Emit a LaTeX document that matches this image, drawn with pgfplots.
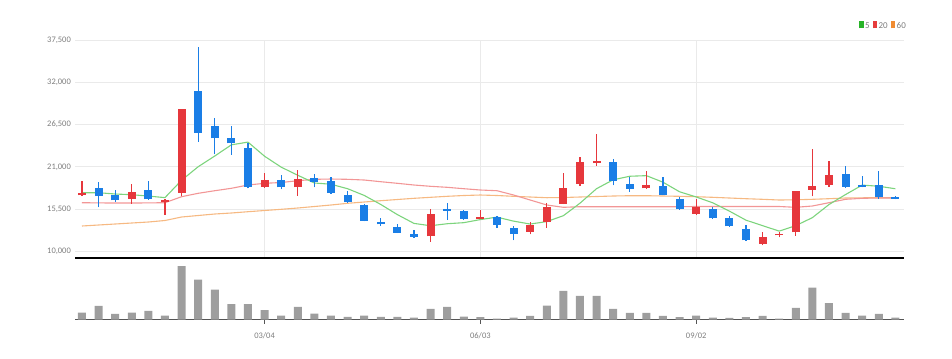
\documentclass[border=0pt]{standalone}
\usepackage{pgfplots}
\pgfplotsset{compat=1.18}
\usepackage{pgfplotstable}
\usepackage{fontspec}
\setmainfont{Carlito}
\definecolor{cred}{RGB}{230,55,60}
\definecolor{cblue}{RGB}{26,126,230}
\definecolor{ma5}{RGB}{125,212,125}
\definecolor{ma20}{RGB}{242,150,150}
\definecolor{ma60}{RGB}{246,185,130}
\definecolor{lg5}{RGB}{40,180,40}
\definecolor{lg20}{RGB}{230,60,60}
\definecolor{lg60}{RGB}{240,140,50}
\definecolor{lab}{RGB}{125,125,125}
\definecolor{grd}{RGB}{234,234,234}
\definecolor{vol}{RGB}{158,158,158}
\definecolor{base}{RGB}{85,85,85}

\pgfplotstableread{
i O H L C
0 17300 19130 17200 17650
3 16860 18740 16180 17740
5 16400 16790 14750 16650
6 17640 28490 17215 28490
11 18420 20170 18290 19300
13 18350 20600 17220 19430
21 11980 15490 11240 14880
24 14270 15400 14190 14450
27 12540 13800 12240 13410
28 13870 16300 13090 15820
29 16210 20170 16170 18290
30 18780 22250 18550 21600
31 21500 25310 21120 21730
34 18220 20470 18160 18680
37 14910 16860 14780 15820
41 10980 12500 10810 11920
42 12110 12540 11850 12280
43 12500 17900 12020 17870
44 18000 23330 17180 18480
45 18650 21730 18420 19980
}\redc

\pgfplotstableread{
i O H L C
1 18200 19100 15750 17200
2 17350 18030 16470 16650
4 18030 19200 16700 16790
7 30900 36550 24270 25440
8 26300 27300 22640 24700
9 24800 26280 22550 24070
10 23420 24140 18220 18420
12 19300 19950 18090 18350
14 19520 20080 18350 19040
15 19130 19650 17510 17600
16 17300 17900 16340 16400
17 16000 16180 13930 14000
18 13870 14320 13350 13540
19 13150 13610 12400 12440
20 12280 12800 11790 11890
22 15520 16340 14100 15300
23 15230 15360 14130 14230
25 14450 14620 13090 13480
26 13090 13320 11460 12280
32 21640 22060 18610 19170
33 18810 19720 17770 18130
35 18520 19720 17300 17350
36 16790 17050 15400 15490
38 15560 15750 14220 14320
39 14390 14650 13190 13280
40 12960 13480 11370 11460
46 20080 21080 18290 18420
47 18650 19780 18350 18420
48 18680 20430 16860 17120
49 17120 17250 16790 16860
}\bluec

\pgfplotstableread{
i m5 m20 m60
0 17644 16344 13315
1 17644 16320 13445
2 17475 16300 13575
3 17384 16300 13705
4 17206 16320 13835
5 17006 16344 14030
6 19264 17124 14485
7 21022 17566 14680
8 22414 17904 14875
9 23870 18216 15005
10 24224 18645 15174
11 22386 18866 15330
12 20968 18970 15486
13 19914 19204 15655
14 18908 19386 15850
15 18744 19425 16045
16 18164 19386 16266
17 17294 19295 16435
18 16116 19074 16604
19 14796 18866 16760
20 13654 18645 16916
21 13350 18476 17046
22 13610 18346 17176
23 13748 18164 17280
24 14150 17995 17345
25 14468 17904 17280
26 13948 17345 17176
27 13570 16695 17085
28 13888 16045 16994
29 14656 15746 17020
30 16280 15824 17085
31 18170 15824 17150
32 19322 15824 17215
33 19784 15824 17254
34 19862 15824 17254
35 19012 15824 17215
36 17764 15824 17176
37 17094 15850 17124
38 16332 15850 17046
39 15252 15850 16955
40 14074 15850 16864
41 13360 15850 16786
42 12652 15850 16695
43 13362 15746 16721
44 14402 15915 16786
45 16106 16344 16864
46 17406 16786 16955
47 18634 16916 16981
48 18484 16955 16994
49 18160 16955 16994
}\mat

\pgfplotstableread{
i v
0 7
1 13.7
2 5.7
3 7
4 8.7
5 4
6 53.3
7 40
8 30
9 15.3
10 15.3
11 9.3
12 4
13 12.7
14 6
15 4
16 2.7
17 4
18 2.7
19 2.7
20 2
21 10.7
22 12.7
23 3
24 2.3
25 1
26 2
27 3.7
28 14
29 28.7
30 23.7
31 23.7
32 10.7
33 6.7
34 6.7
35 3.7
36 2.3
37 4
38 2
39 1.7
40 2.3
41 3.7
42 1
43 11.7
44 32
45 16.3
46 6.7
47 4
48 5.7
49 2
}\volt

\begin{document}
\begin{tikzpicture}
\path[use as bounding box] (0bp,0bp) rectangle (952bp,359bp);

% volume panel
\begin{axis}[
  at={(75bp,39.5bp)}, anchor=south west,
  width=829bp, height=61.5bp, scale only axis,
  xmin=-0.42, xmax=49.52, ymin=0, ymax=61.5,
  axis y line=none, axis x line*=bottom,
  x axis line style={draw=base, line width=1.6bp},
  xtick={11,24,37}, xticklabels={03/04,06/03,09/02},
  tick align=outside, major tick length=4bp,
  xtick style={draw=base, line width=1bp},
  x tick label style={font=\fontsize{8.5}{9}\selectfont, text=lab, inner sep=0pt, yshift=-9bp},
  ytick=\empty,
]
\addplot[ybar, bar width=8bp, fill=vol, draw=none] table[x=i, y=v]{\volt};
\end{axis}

% price panel
\begin{axis}[
  at={(75bp,101bp)}, anchor=south west,
  width=829bp, height=218bp, scale only axis,
  xmin=-0.42, xmax=49.52, ymin=9155, ymax=37500,
  scaled y ticks=false,
  axis x line*=bottom, axis y line*=left,
  y axis line style={draw=none},
  x axis line style={black, line width=1.8bp},
  xtick={11,24,37}, xticklabels={,,},
  ytick={10000,15500,21000,26500,32000,37500},
  yticklabels={{10,000},{15,500},{21,000},{26,500},{32,000},{37,500}},
  major tick length=0pt,
  xmajorgrids, ymajorgrids,
  grid style={grd, line width=0.8bp},
  y tick label style={font=\fontsize{8.5}{9}\selectfont, text=lab, inner sep=0pt, anchor=east, xshift=-4bp},
]
\addplot[ma60, line width=1.1bp, mark=none] table[x=i, y=m60]{\mat};
\addplot[ma20, line width=1.1bp, mark=none] table[x=i, y=m20]{\mat};
\addplot[ma5, line width=1.1bp, mark=none] table[x=i, y=m5]{\mat};
% wicks
\addplot[draw=none, mark=none, error bars/.cd, y dir=plus, y explicit, error mark=none,
  error bar style={line width=1.2bp, draw=cred}]
  table[x=i, y=L, y error expr=\thisrow{H}-\thisrow{L}]{\redc};
\addplot[draw=none, mark=none, error bars/.cd, y dir=plus, y explicit, error mark=none,
  error bar style={line width=1.2bp, draw=cblue}]
  table[x=i, y=L, y error expr=\thisrow{H}-\thisrow{L}]{\bluec};
% bodies
\addplot[draw=none, mark=none, error bars/.cd, y dir=plus, y explicit, error mark=none,
  error bar style={line width=8bp, draw=cred}]
  table[x=i, y=O, y error expr=\thisrow{C}-\thisrow{O}]{\redc};
\addplot[draw=none, mark=none, error bars/.cd, y dir=plus, y explicit, error mark=none,
  error bar style={line width=8bp, draw=cblue}]
  table[x=i, y=C, y error expr=\thisrow{O}-\thisrow{C}]{\bluec};
\end{axis}

\node[anchor=east, inner sep=0pt, font=\fontsize{9}{10}\selectfont, text=lab] at (906bp,334bp)
 {\textcolor{lg5}{\rule{4.5bp}{7bp}}\,5\hspace{3bp}\textcolor{lg20}{\rule{4.5bp}{7bp}}\,20\hspace{3bp}\textcolor{lg60}{\rule{4.5bp}{7bp}}\,60};
\end{tikzpicture}
\end{document}
